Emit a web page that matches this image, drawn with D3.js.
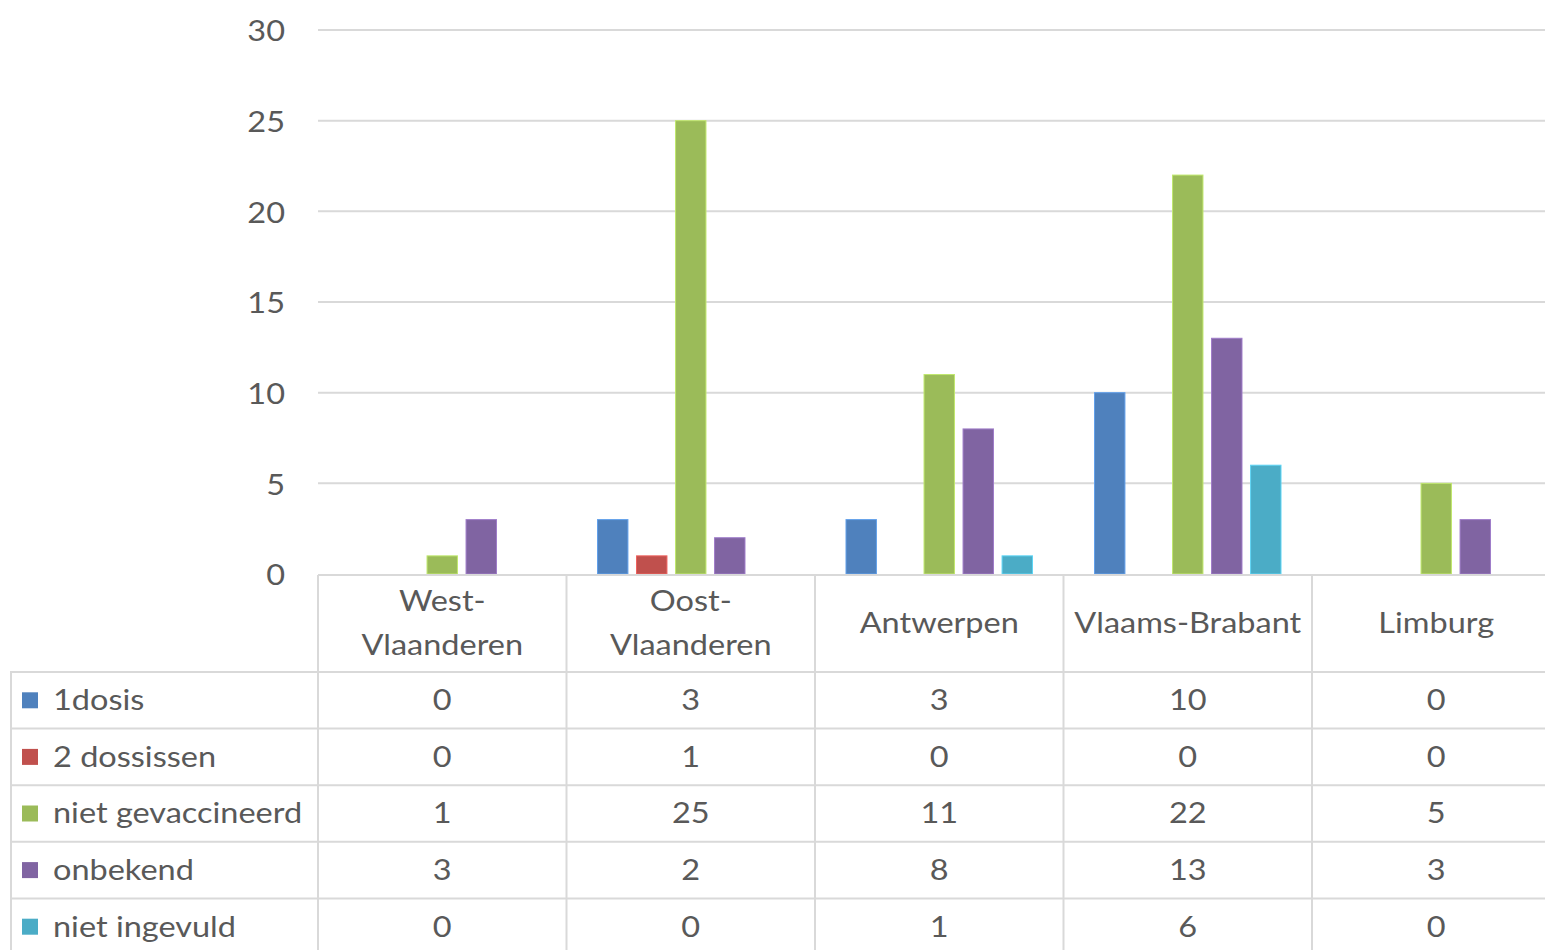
<!DOCTYPE html>
<html>
<head>
<meta charset="utf-8">
<script src="https://cdn.jsdelivr.net/npm/d3@7"></script>
<style>
  html, body { margin: 0; padding: 0; background: #fff; overflow: hidden; }
  svg { display: block; }
  text { font-family: Lato, "Open Sans", sans-serif; fill: #595959; }
</style>
</head>
<body>
<svg id="chart" width="1545" height="950"></svg>
<script>
// Provinces (columns) and how each is drawn in the header cell
const provinces = ["West-Vlaanderen", "Oost-Vlaanderen", "Antwerpen", "Vlaams-Brabant", "Limburg"];
const provinceLines = [["West-", "Vlaanderen"], ["Oost-", "Vlaanderen"], ["Antwerpen"], ["Vlaams-Brabant"], ["Limburg"]];

// Vaccination status series
const seriesNames = ["1dosis", "2 dossissen", "niet gevaccineerd", "onbekend", "niet ingevuld"];
const seriesColors = ["#4F81BD", "#C0504D", "#9BBB59", "#8064A2", "#4BACC6"];

const dosis1         = [0, 3, 3, 10, 0];
const dosissen2      = [0, 1, 0, 0, 0];
const nietGevacc     = [1, 25, 11, 22, 5];
const onbekend       = [3, 2, 8, 13, 3];
const nietIngevuld   = [0, 0, 1, 6, 0];
const seriesValues = [dosis1, dosissen2, nietGevacc, onbekend, nietIngevuld];

const yTicks = [0, 5, 10, 15, 20, 25, 30];

const svg = d3.select("#chart");

// Layout
const plotLeft = 318, colW = 248.5;
const plotRight = plotLeft + colW * provinces.length;
const yTop = 30, yBase = 574;
const tableLeft = 10;
const headerBottom = 672, rowH = 56.6;
const gridColor = "#d9d9d9";
const fontSize = 28;
const stretch = 1.16; // horizontal widening of the label glyphs

const x0 = d3.scaleBand().domain(provinces).range([plotLeft, plotRight]).paddingInner(0).paddingOuter(0);
const x1 = d3.scaleBand().domain(seriesNames).range([31, 217.5]).paddingInner(0.22).paddingOuter(0);
const y = d3.scaleLinear().domain([0, 30]).range([yBase, yTop]);

// Text placed at (x, y), widened horizontally around its anchor
function label(parent, x, yy, str, anchor) {
  parent.append("g").attr("transform", `translate(${x},${yy}) scale(${stretch},1)`)
    .append("text").attr("text-anchor", anchor || "start").attr("dy", "0.35em")
    .attr("font-size", fontSize).text(str);
}

// Horizontal gridlines
svg.append("g").selectAll("line").data(yTicks.filter(t => t > 0)).join("line")
  .attr("x1", plotLeft).attr("x2", plotRight)
  .attr("y1", d => y(d)).attr("y2", d => y(d))
  .attr("stroke", gridColor).attr("stroke-width", 2);

// Y axis labels
const yAxis = d3.axisLeft(y).tickValues(yTicks).tickSize(0).tickPadding(0);
const yg = svg.append("g").attr("transform", "translate(285,1)").call(yAxis);
yg.select(".domain").remove();
yg.selectAll("text").attr("font-size", fontSize).attr("font-family", "Lato, 'Open Sans', sans-serif")
  .attr("fill", "#595959").attr("dy", "0.35em").attr("transform", `scale(${stretch},1)`);

// Bars
const groups = svg.append("g").selectAll("g").data(provinces).join("g")
  .attr("transform", d => `translate(${x0(d)},0)`);
groups.selectAll("rect")
  .data((p, pi) => seriesNames.map((s, si) => ({ s, si, v: seriesValues[si][pi] })))
  .join("rect")
  .filter(d => d.v > 0)
  .attr("x", d => x1(d.s))
  .attr("width", x1.bandwidth())
  .attr("y", d => y(d.v))
  .attr("height", d => yBase - y(d.v))
  .attr("fill", d => seriesColors[d.si])
  .attr("stroke", d => d3.color(seriesColors[d.si]).brighter(0.6))
  .attr("stroke-width", 1);

// Data table grid
const table = svg.append("g");
const nRows = seriesNames.length;
const tableBottom = headerBottom + rowH * nRows;
// axis / header top line
table.append("line").attr("x1", plotLeft).attr("x2", plotRight).attr("y1", yBase + 1).attr("y2", yBase + 1)
  .attr("stroke", gridColor).attr("stroke-width", 2);
// row lines
d3.range(nRows).forEach(i => {
  const yy = headerBottom + rowH * i;
  table.append("line").attr("x1", tableLeft).attr("x2", plotRight).attr("y1", yy).attr("y2", yy)
    .attr("stroke", gridColor).attr("stroke-width", 2);
});
// vertical lines
table.append("line").attr("x1", tableLeft + 1).attr("x2", tableLeft + 1).attr("y1", headerBottom).attr("y2", tableBottom)
  .attr("stroke", gridColor).attr("stroke-width", 2);
provinces.forEach(p => {
  table.append("line").attr("x1", x0(p)).attr("x2", x0(p)).attr("y1", yBase + 1).attr("y2", tableBottom)
    .attr("stroke", gridColor).attr("stroke-width", 2);
});

// Header labels
provinces.forEach((p, i) => {
  const lines = provinceLines[i];
  const cx = x0(p) + colW / 2;
  const cy = (yBase + headerBottom) / 2;
  const lh = 44;
  lines.forEach((ln, j) => {
    label(table, cx, cy + (j - (lines.length - 1) / 2) * lh, ln, "middle");
  });
});

// Legend keys, series names and values
seriesNames.forEach((s, si) => {
  const cy = headerBottom + rowH * si + rowH / 2;
  table.append("rect").attr("x", 22).attr("y", cy - 8).attr("width", 16).attr("height", 16)
    .attr("fill", seriesColors[si]);
  label(table, 53, cy, s, "start");
  provinces.forEach((p, pi) => {
    label(table, x0(p) + colW / 2, cy, seriesValues[si][pi], "middle");
  });
});
</script>
</body>
</html>
